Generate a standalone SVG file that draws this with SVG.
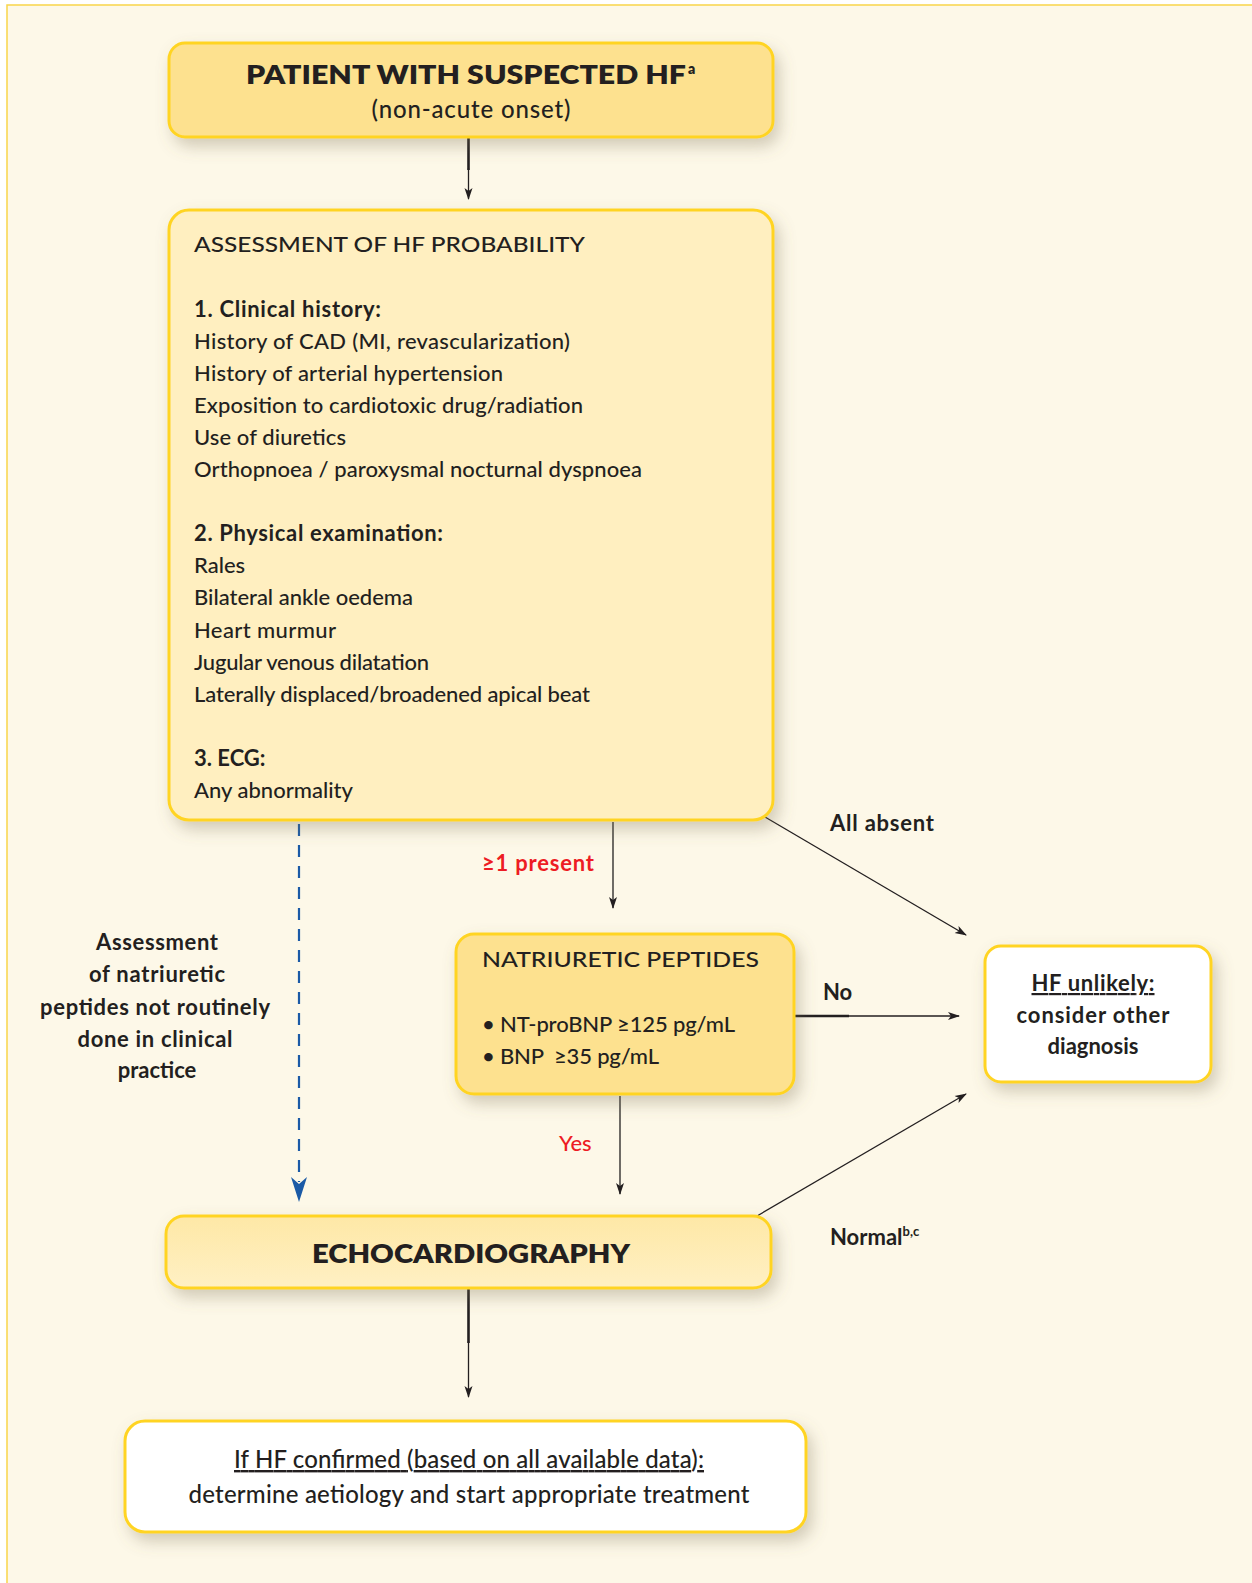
<svg xmlns="http://www.w3.org/2000/svg" width="1252" height="1583" viewBox="0 0 1252 1583">
  <style>
    text { font-family: Lato, "Liberation Sans", sans-serif; fill: #231F20; font-weight: 500; }
    .box { stroke: #FFD424; stroke-width: 3; }
    .gold { fill: #FDE18F; }
    .light { fill: #FFEFC0; }
    .white { fill: #FFFFFF; }
    .b { font-weight: 800; }
    .sb, .sb text { font-weight: 700; }
    .body { font-size: 22px; }
    .mid { text-anchor: middle; }
    .red { fill: #ED1C24; }
    .conn { stroke: #231F20; stroke-width: 1.3; fill: none; }
    .thick { stroke: #231F20; stroke-width: 2.6; fill: none; }
  </style>
  <defs>
    <filter id="sh" x="-20%" y="-50%" width="150%" height="220%">
      <feDropShadow dx="5" dy="8" stdDeviation="8" flood-color="#7A6E50" flood-opacity="0.33"/>
    </filter>
    <linearGradient id="echoGrad" x1="0" y1="0" x2="0" y2="1">
      <stop offset="0" stop-color="#FEE8A6"/>
      <stop offset="1" stop-color="#FFF0C4"/>
    </linearGradient>
    <marker id="ah" viewBox="0 0 12 10" refX="11" refY="5" markerWidth="12" markerHeight="10" markerUnits="userSpaceOnUse" orient="auto">
      <path d="M0,1 L12,5 L0,9 L3,5 Z" fill="#231F20"/>
    </marker>
  </defs>

  <!-- background panel -->
  <rect x="0" y="0" width="1252" height="1583" fill="#FFFFFF"/>
  <rect x="7" y="5" width="1260" height="1600" fill="#FDF8E8" stroke="#F9D54A" stroke-width="1.5"/>

  <!-- connectors -->
  <g id="connectors">
    <line class="thick" x1="468.5" y1="138" x2="468.5" y2="170"/>
    <line class="conn" x1="468.5" y1="168" x2="468.5" y2="199" marker-end="url(#ah)"/>

    <line class="conn" x1="613" y1="822" x2="613" y2="908" marker-end="url(#ah)"/>

    <line class="conn" x1="765" y1="817" x2="966" y2="935" marker-end="url(#ah)"/>

    <line class="thick" x1="794" y1="1016" x2="849" y2="1016"/>
    <line class="conn" x1="847" y1="1016" x2="959" y2="1016" marker-end="url(#ah)"/>

    <line class="conn" x1="620" y1="1096" x2="620" y2="1194" marker-end="url(#ah)"/>

    <line class="conn" x1="757" y1="1216" x2="966" y2="1094" marker-end="url(#ah)"/>

    <line class="thick" x1="468.5" y1="1289" x2="468.5" y2="1343"/>
    <line class="conn" x1="468.5" y1="1341" x2="468.5" y2="1397" marker-end="url(#ah)"/>

    <line x1="299" y1="824" x2="299" y2="1182" stroke="#1B5AA6" stroke-width="2.2" stroke-dasharray="12 9"/>
    <path d="M291,1177 L299,1202 L307,1177 L299,1184 Z" fill="#1B5AA6"/>
  </g>

  <!-- labels on connectors -->
  <g id="labels">
    <text x="830" y="831" class="body sb" textLength="104">All absent</text>
    <text x="482" y="871" class="body sb red" textLength="112">≥1 present</text>
    <text x="823" y="1000" class="body sb">No</text>
    <text x="559" y="1151" class="body red">Yes</text>
    <text x="830" y="1245" class="body sb">Normal<tspan dy="-9" font-size="13">b,c</tspan></text>
    <g class="body sb mid">
      <text x="157" y="950" textLength="122">Assessment</text>
      <text x="157" y="982" textLength="136">of natriuretic</text>
      <text x="155" y="1015" textLength="230">peptides not routinely</text>
      <text x="155" y="1047" textLength="155">done in clinical</text>
      <text x="157" y="1078">practice</text>
    </g>
  </g>

  <!-- nodes -->
  <g id="node-patient">
    <rect class="box gold" x="169" y="43" width="604" height="94" rx="16" filter="url(#sh)"/>
    <text x="246" y="84" class="b" font-size="27" textLength="440" lengthAdjust="spacingAndGlyphs">PATIENT WITH SUSPECTED HF</text>
    <text x="688" y="74" class="b" font-size="14">a</text>
    <text x="471" y="118" class="mid" font-size="24" textLength="199">(non-acute onset)</text>
  </g>

  <g id="node-assessment">
    <rect class="box light" x="169" y="210" width="604" height="610" rx="20" filter="url(#sh)"/>
    <g class="body">
      <text x="194" y="252" textLength="391" lengthAdjust="spacingAndGlyphs">ASSESSMENT OF HF PROBABILITY</text>
      <text x="194" y="316.5" class="sb" textLength="187">1. Clinical history:</text>
      <text x="194" y="348.6" textLength="376">History of CAD (MI, revascularization)</text>
      <text x="194" y="380.7" textLength="309">History of arterial hypertension</text>
      <text x="194" y="412.8" textLength="389">Exposition to cardiotoxic drug/radiation</text>
      <text x="194" y="444.9" textLength="152">Use of diuretics</text>
      <text x="194" y="477" textLength="448">Orthopnoea / paroxysmal nocturnal dyspnoea</text>
      <text x="194" y="541.2" class="sb" textLength="249">2. Physical examination:</text>
      <text x="194" y="573.3">Rales</text>
      <text x="194" y="605.4" textLength="219">Bilateral ankle oedema</text>
      <text x="194" y="637.5" textLength="142">Heart murmur</text>
      <text x="194" y="669.6" textLength="235">Jugular venous dilatation</text>
      <text x="194" y="701.7" textLength="396">Laterally displaced/broadened apical beat</text>
      <text x="194" y="765.9" class="sb">3. ECG:</text>
      <text x="194" y="798" textLength="159">Any abnormality</text>
    </g>
  </g>

  <g id="node-natriuretic">
    <rect class="box gold" x="456" y="934" width="338" height="160" rx="18" filter="url(#sh)"/>
    <g class="body">
      <text x="482" y="967" textLength="277" lengthAdjust="spacingAndGlyphs">NATRIURETIC PEPTIDES</text>
      <text x="482" y="1032" textLength="253">• NT-proBNP ≥125 pg/mL</text>
      <text x="482" y="1064" xml:space="preserve" textLength="177">• BNP  ≥35 pg/mL</text>
    </g>
  </g>

  <g id="node-unlikely">
    <rect class="box white" x="985" y="946" width="226" height="136" rx="16" filter="url(#sh)"/>
    <g class="body sb mid">
      <text x="1093" y="991" text-decoration="underline" textLength="123">HF unlikely:</text>
      <text x="1093" y="1023" textLength="153">consider other</text>
      <text x="1093" y="1054">diagnosis</text>
    </g>
  </g>

  <g id="node-echo">
    <rect class="box" fill="url(#echoGrad)" x="166" y="1216" width="605" height="72" rx="18" filter="url(#sh)"/>
    <text x="471" y="1263" class="b mid" font-size="27" textLength="318" lengthAdjust="spacingAndGlyphs">ECHOCARDIOGRAPHY</text>
  </g>

  <g id="node-confirmed">
    <rect class="box white" x="125" y="1421" width="681" height="111" rx="20" filter="url(#sh)"/>
    <g class="mid" font-size="24">
      <text x="469" y="1468" text-decoration="underline" textLength="470">If HF confirmed (based on all available data):</text>
      <text x="469" y="1503" textLength="561">determine aetiology and start appropriate treatment</text>
    </g>
  </g>
</svg>
